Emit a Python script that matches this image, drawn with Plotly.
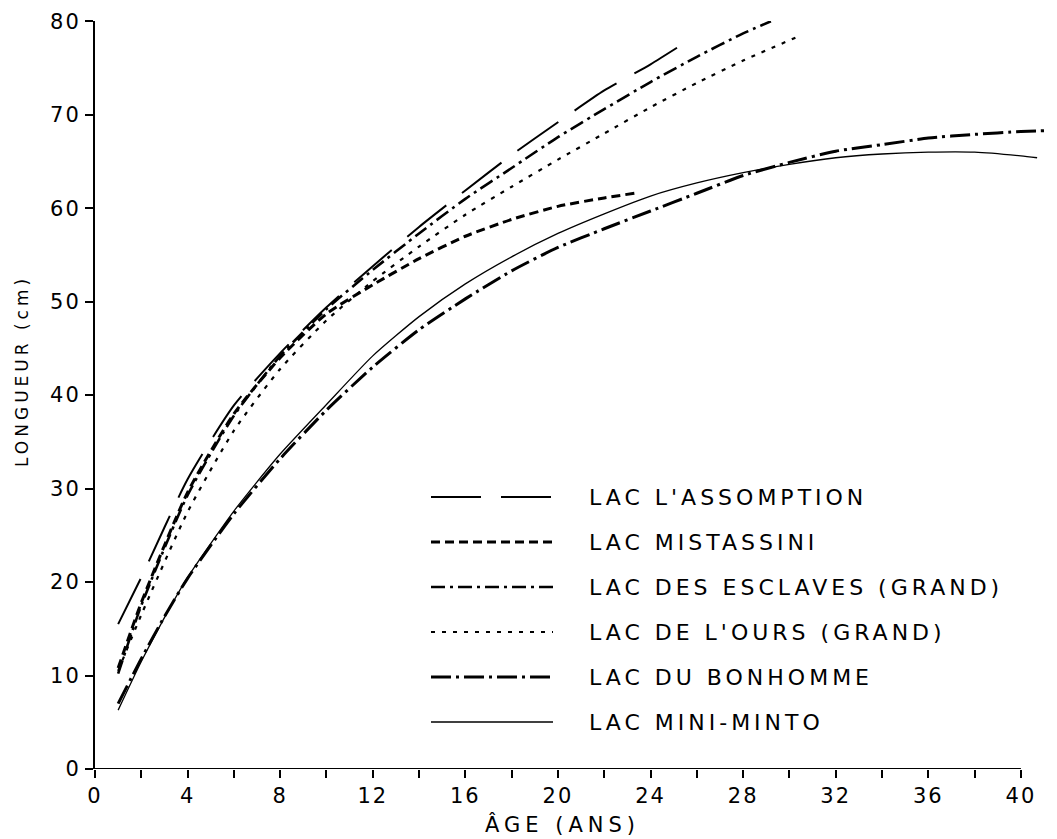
import plotly.graph_objects as go

# ---------------- data ----------------
assomption_age = [1, 2, 4, 6, 8, 10, 12, 14, 16, 18, 20, 22, 24, 25.8]
assomption_len = [15.5, 20.5, 31.0, 38.9, 44.5, 49.4, 53.8, 58.0, 61.9, 65.7, 69.2, 72.6, 75.4, 78.2]

mistassini_age = [1, 2, 4, 6, 8, 10, 12, 14, 16, 18, 20, 22, 23.3]
mistassini_len = [10.8, 17.8, 29.6, 38.0, 44.0, 48.7, 51.8, 54.6, 57.0, 58.8, 60.2, 61.1, 61.6]

esclaves_age = [1, 2, 4, 6, 8, 10, 12, 14, 16, 18, 20, 22, 24, 26, 28, 29.2]
esclaves_len = [10.2, 17.5, 29.3, 37.8, 44.2, 49.2, 53.4, 57.3, 61.0, 64.3, 67.6, 70.6, 73.5, 76.2, 78.7, 80.0]

ours_age = [1, 2, 4, 6, 8, 10, 12, 14, 16, 18, 20, 22, 24, 26, 28, 30.5]
ours_len = [10.5, 16.5, 27.5, 36.2, 42.8, 48.0, 52.2, 55.9, 59.3, 62.3, 65.2, 68.0, 70.8, 73.4, 75.8, 78.5]

bonhomme_age = [1, 2, 3, 4, 6, 8, 10, 12, 14, 16, 18, 20, 22, 24, 26, 28, 30, 32, 34, 36, 38, 40, 41]
bonhomme_len = [7.0, 11.8, 16.3, 20.4, 27.3, 33.2, 38.4, 43.0, 47.0, 50.3, 53.3, 55.8, 57.8, 59.7,
                61.6, 63.5, 64.9, 66.1, 66.8, 67.5, 67.9, 68.2, 68.3]

minto_age = [1, 2, 3, 4, 6, 8, 10, 12, 14, 16, 18, 20, 22, 24, 26, 28, 30, 32, 34, 36, 38, 40, 40.7]
minto_len = [6.3, 11.5, 16.2, 20.5, 27.6, 33.7, 39.0, 44.2, 48.4, 51.9, 54.8, 57.3, 59.4, 61.3,
             62.7, 63.8, 64.7, 65.4, 65.8, 66.0, 66.0, 65.6, 65.4]

series_names = ["LAC L'ASSOMPTION", "LAC MISTASSINI", "LAC DES ESCLAVES (GRAND)",
                "LAC DE L'OURS (GRAND)", "LAC DU BONHOMME", "LAC MINI-MINTO"]

x_tick_vals = [0, 4, 8, 12, 16, 20, 24, 28, 32, 36, 40]
y_tick_vals = [0, 10, 20, 30, 40, 50, 60, 70, 80]
x_title = "ÂGE (ANS)"
y_title = "LONGUEUR (cm)"

# ---------------- layout geometry ----------------
FONT = "DejaVu Sans"
ML, MT, PW, PH = 87, 13, 956, 748
W, H = 1057, 839
OFF = 8  # page body margin


def px_x(p):  # page pixel -> paper x
    return (p - OFF - ML) / PW


def px_y(p):  # page pixel -> paper y
    return (MT + PH - (p - OFF)) / PH


styles = [
    dict(width=2.0, dash="50px,20px"),
    dict(width=3.0, dash="9px,5px"),
    dict(width=2.6, dash="14px,5px,3px,5px"),
    dict(width=2.2, dash="4px,7px"),
    dict(width=3.0, dash="20px,5px,3px,5px"),
    dict(width=1.3, dash="solid"),
]
data = [
    (assomption_age, assomption_len),
    (mistassini_age, mistassini_len),
    (esclaves_age, esclaves_len),
    (ours_age, ours_len),
    (bonhomme_age, bonhomme_len),
    (minto_age, minto_len),
]


def spaced(t, sp):
    return f'<span style="letter-spacing:{sp}px">{t}</span>'


fig = go.Figure()
for (xs, ys), name, st in zip(data, series_names, styles):
    fig.add_trace(go.Scatter(
        x=xs, y=ys, mode="lines", name=name, showlegend=False,
        line=dict(color="black", width=st["width"], dash=st["dash"], shape="spline", smoothing=0.6),
    ))

# x-axis baseline from 0 to 40
fig.add_shape(type="line", xref="x", yref="y", x0=0, x1=40, y0=0, y1=0,
              line=dict(color="black", width=2))

# legend (keys + labels)
legend_rows = [497, 542, 587, 632, 677, 722]
for name, st, ry in zip(series_names, styles, legend_rows):
    fig.add_shape(type="line", xref="paper", yref="paper",
                  x0=px_x(431), x1=px_x(553), y0=px_y(ry), y1=px_y(ry),
                  line=dict(color="black", width=st["width"], dash=st["dash"]))
    fig.add_annotation(text=spaced(name, 4), xref="paper", yref="paper",
                       x=px_x(587), y=px_y(ry), xanchor="left", yanchor="middle",
                       showarrow=False, font=dict(family=FONT, size=22, color="black"))

fig.update_layout(
    width=W, height=H,
    margin=dict(l=ML, r=W - ML - PW, t=MT, b=H - MT - PH),
    paper_bgcolor="white", plot_bgcolor="white",
    font=dict(family=FONT, size=21, color="black"),
    showlegend=False,
    xaxis=dict(
        range=[0, 41.3], showgrid=False, zeroline=False, showline=False, automargin=False,
        tickmode="array", tickvals=x_tick_vals,
        ticktext=[spaced(str(v), 2) for v in x_tick_vals],
        ticks="outside", ticklen=8, tickwidth=1.5, tickcolor="black",
        minor=dict(dtick=2, tick0=0, ticks="outside", ticklen=8, tickwidth=1.5, tickcolor="black"),
        tickfont=dict(size=21), ticklabeloverflow="allow",
    ),
    yaxis=dict(
        range=[0, 80.03], showgrid=False, zeroline=False, showline=True, automargin=False,
        linecolor="black", linewidth=2,
        tickmode="array", tickvals=y_tick_vals,
        ticktext=[spaced(str(v), 2) for v in y_tick_vals],
        ticks="outside", ticklen=8, tickwidth=1.5, tickcolor="black",
        tickfont=dict(size=21), ticklabeloverflow="allow",
    ),
)

fig.add_annotation(
    text=spaced(x_title, 5), xref="paper", yref="paper",
    x=px_x(562), y=px_y(824), xanchor="center", yanchor="middle", showarrow=False,
    font=dict(family=FONT, size=21, color="black"),
)
fig.add_annotation(
    text=spaced(y_title, 4), textangle=-90,
    xref="paper", yref="paper", x=px_x(22), y=px_y(371),
    xanchor="center", yanchor="middle", showarrow=False,
    font=dict(family=FONT, size=17, color="black"),
)

fig.write_html("out.html")
